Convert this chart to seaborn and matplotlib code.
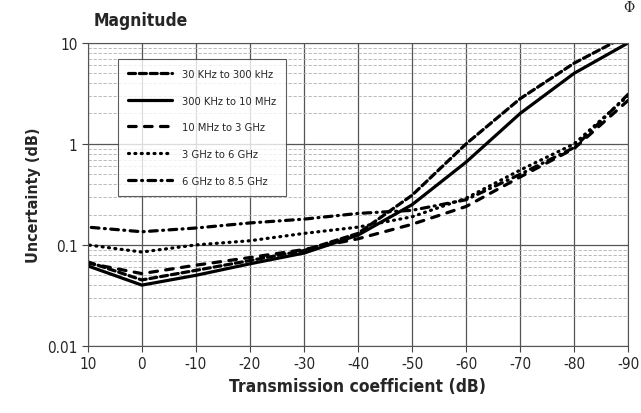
import matplotlib
matplotlib.use("Agg")
import matplotlib.pyplot as plt
import seaborn as sns
import pandas as pd

# transmission coefficient (dB) and uncertainty (dB) per frequency band
trans_db = [10, 0, -10, -20, -30, -40, -50, -60, -70, -80, -90]
band_names = ["30 KHz to 300 kHz", "300 KHz to 10 MHz", "10 MHz to 3 GHz",
              "3 GHz to 6 GHz", "6 GHz to 8.5 GHz"]
unc_30k = [0.068, 0.045, 0.056, 0.070, 0.088, 0.13, 0.31, 1.0, 2.8, 6.3, 12]
unc_300k = [0.062, 0.040, 0.050, 0.065, 0.083, 0.125, 0.25, 0.66, 2.0, 5.0, 10]
unc_10m = [0.066, 0.052, 0.063, 0.075, 0.090, 0.115, 0.16, 0.24, 0.47, 0.9, 2.7]
unc_3g = [0.100, 0.085, 0.100, 0.110, 0.130, 0.150, 0.19, 0.29, 0.55, 1.0, 3.0]
unc_6g = [0.150, 0.135, 0.147, 0.165, 0.180, 0.205, 0.22, 0.28, 0.50, 0.92, 3.1]

rows = []
for name, vals in zip(band_names, [unc_30k, unc_300k, unc_10m, unc_3g, unc_6g]):
    for x, y in zip(trans_db, vals):
        rows.append({"Transmission": x, "Uncertainty": y, "Band": name})
df = pd.DataFrame(rows)

sns.set_style("ticks")
plt.rcParams["font.family"] = ["DejaVu Sans"]
plt.rcParams["font.stretch"] = "condensed"

fig = plt.figure(figsize=(6.41, 4.14), dpi=100)
ax = fig.add_axes([0.137, 0.162, 0.843, 0.732])

dash_styles = {
    band_names[0]: (2.2, 1.2),
    band_names[1]: "",
    band_names[2]: (2.4, 2.6),
    band_names[3]: (0.3, 1.7),
    band_names[4]: (2.4, 1.7, 0.3, 1.7),
}
sns.lineplot(data=df, x="Transmission", y="Uncertainty", style="Band",
             dashes=dash_styles, color="black", linewidth=2.3, ax=ax,
             legend=True)
for ln in ax.get_lines():
    ln.set_dash_capstyle("round")

ax.set_yscale("log")
ax.set_ylim(0.01, 10)
ax.set_xlim(10, -90)
ax.set_xticks(trans_db)
ax.set_xticklabels([str(v) for v in trans_db])
ax.set_yticks([0.01, 0.1, 1, 10])
ax.set_yticklabels(["0.01", "0.1", "1", "10"])
ax.tick_params(axis="both", labelsize=11, length=4, color="#444444")
ax.tick_params(axis="y", which="minor", length=0)

ax.grid(True, which="major", color="#555555", linewidth=0.9)
ax.grid(True, which="minor", axis="y", color="#b0b0b0", linewidth=0.6,
        linestyle=(0, (4, 2)))
for s in ax.spines.values():
    s.set_color("#555555")

ax.set_xlabel("Transmission coefficient (dB)", fontsize=12.5, fontweight="bold")
ax.set_ylabel("Uncertainty (dB)", fontsize=11.5, fontweight="bold")
ax.text(0.01, 1.045, "Magnitude", transform=ax.transAxes, fontsize=12.5,
        fontweight="bold", ha="left", va="bottom")
fig.text(0.972, 0.998, "\u03a6", fontsize=11, ha="left", va="top",
         family="DejaVu Serif")

leg = ax.legend(loc="upper left", bbox_to_anchor=(0.045, 0.965),
                frameon=True, fancybox=False, edgecolor="#333333",
                fontsize=8, handlelength=4.0, labelspacing=1.5,
                borderpad=0.9, handletextpad=0.9)
leg.get_frame().set_linewidth(0.8)
for h in leg.get_lines():
    h.set_linewidth(2.3)

fig.savefig("out.png", dpi=100)
